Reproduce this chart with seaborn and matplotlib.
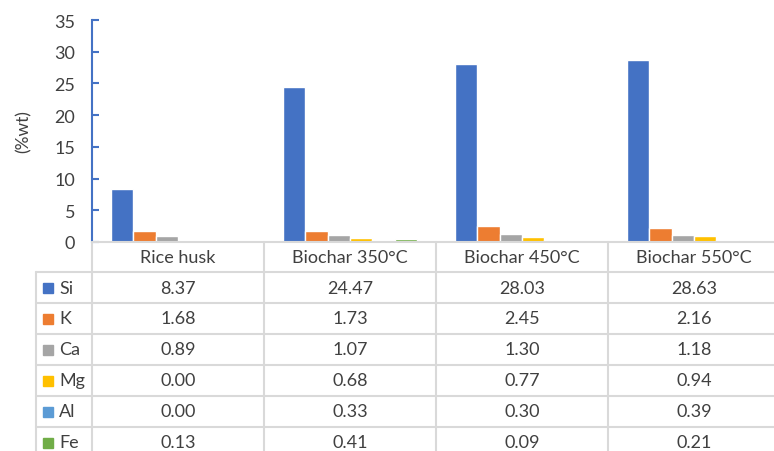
import matplotlib.pyplot as plt
import seaborn as sns
import pandas as pd
import numpy as np
from matplotlib.lines import Line2D
from matplotlib.patches import Rectangle

samples = ['Rice husk', 'Biochar 350°C', 'Biochar 450°C', 'Biochar 550°C']
elements = ['Si', 'K', 'Ca', 'Mg', 'Al', 'Fe']
si = [8.37, 24.47, 28.03, 28.63]
k = [1.68, 1.73, 2.45, 2.16]
ca = [0.89, 1.07, 1.30, 1.18]
mg = [0.00, 0.68, 0.77, 0.94]
al = [0.00, 0.33, 0.30, 0.39]
fe = [0.13, 0.41, 0.09, 0.21]
colors = ['#4472C4', '#ED7D31', '#A5A5A5', '#FFC000', '#5B9BD5', '#70AD47']

series = [si, k, ca, mg, al, fe]
rows = []
for el, vals in zip(elements, series):
    for s, v in zip(samples, vals):
        rows.append({'sample': s, 'element': el, 'value': v})
df = pd.DataFrame(rows)

sns.set_style('white')
plt.rcParams['font.family'] = ['Lato', 'DejaVu Sans']

W, H = 774, 452
fig = plt.figure(figsize=(W / 100, H / 100), dpi=100)

# pixel helpers
def fx(x):
    return x / W

def fy(y):
    return 1 - y / H

x0, ytop, ybase = 92, 21, 243
colw = 172
txt = '#404040'
fs = 13

ax = fig.add_axes([fx(x0), fy(ybase), 4 * colw / W, (ybase - ytop) / H])
sns.barplot(data=df, x='sample', y='value', hue='element', palette=colors,
            width=0.78, saturation=1, ax=ax, legend=False)
ax.set_xlim(-0.5, 3.5)
ax.set_ylim(0, 35)
ax.set_yticks(np.arange(0, 36, 5))
ax.set_xticks([])
ax.set_xlabel('')
ax.set_ylabel('(%wt)', fontsize=12.5, color=txt, labelpad=16)
for sp in ['top', 'right', 'bottom']:
    ax.spines[sp].set_visible(False)
ax.spines['left'].set_color('#4472C4')
ax.spines['left'].set_linewidth(1.5)
ax.tick_params(axis='y', direction='in', length=5, width=1.5, color='#4472C4',
               labelsize=fs, labelcolor=txt, pad=12, left=True)

# data table
grid = '#D9D9D9'
row_h = 31
header_bot = 273
lab_x = 36

def hline(y, xa, xb):
    fig.add_artist(Line2D([fx(xa), fx(xb)], [fy(y), fy(y)], color=grid, lw=1.5))

def vline(x, ya, yb):
    fig.add_artist(Line2D([fx(x), fx(x)], [fy(ya), fy(yb)], color=grid, lw=1.5))

hline(ybase, x0, W + 10)
for i in range(len(elements) + 1):
    hline(header_bot + i * row_h, lab_x, W + 10)
vline(lab_x, header_bot, H + 10)
for j in range(5):
    vline(x0 + j * colw, ybase, H + 10)

for j, s in enumerate(samples):
    fig.text(fx(x0 + (j + 0.5) * colw), fy((ybase + header_bot) / 2), s,
             ha='center', va='center', fontsize=fs, color=txt)

for i, (el, vals, c) in enumerate(zip(elements, series, colors)):
    yc = header_bot + (i + 0.5) * row_h
    fig.add_artist(Rectangle((fx(43), fy(yc + 5)), 10 / W, 10 / H,
                             color=c, transform=fig.transFigure))
    fig.text(fx(59), fy(yc), el, ha='left', va='center', fontsize=fs, color=txt)
    for j, v in enumerate(vals):
        fig.text(fx(x0 + (j + 0.5) * colw), fy(yc), f'{v:.2f}',
                 ha='center', va='center', fontsize=fs, color=txt)

fig.savefig('out.png', dpi=100)
